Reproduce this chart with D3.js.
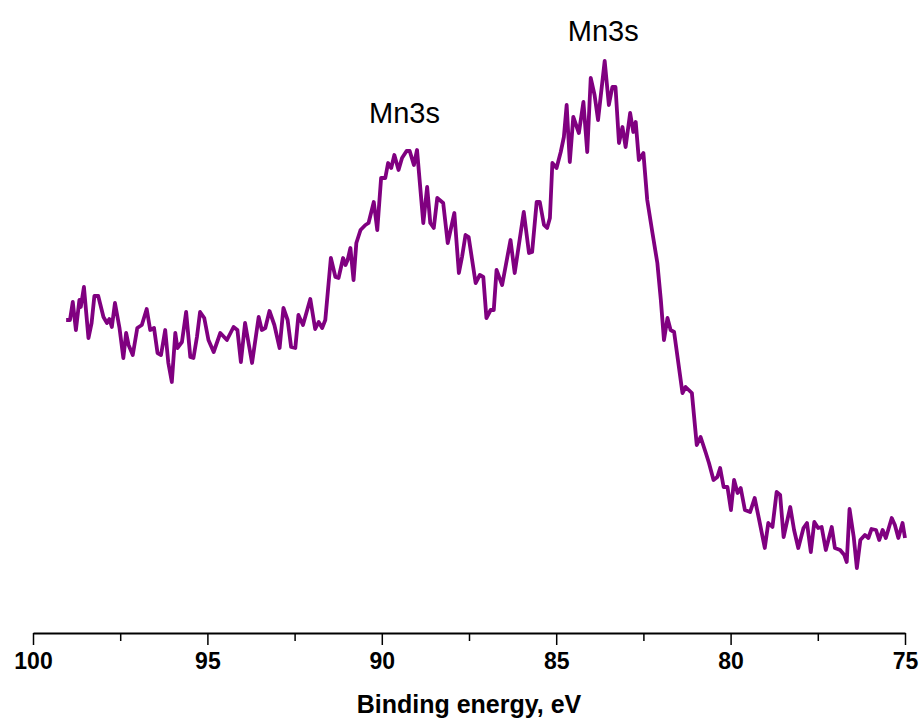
<!DOCTYPE html>
<html>
<head>
<meta charset="utf-8">
<script src="https://cdn.jsdelivr.net/npm/d3@7"></script>
<style>
    body { margin: 0; background: #fff; }
    #chart { width: 922px; height: 724px; display: block; }
</style>
</head>
<body>
<svg id="chart"></svg>
<script>

// binding energy (eV)
var energy = [
    99.05, 98.94, 98.86, 98.77, 98.67, 98.63, 98.54, 98.41, 98.32, 98.24,
    98.13, 97.98, 97.88, 97.81, 97.74, 97.65, 97.52, 97.41, 97.33, 97.26,
    97.14, 97.01, 96.88, 96.74, 96.64, 96.53, 96.43, 96.33, 96.21, 96.12,
    96.02, 95.92, 95.86, 95.73, 95.61, 95.49, 95.40, 95.30, 95.21,
    95.09, 94.97, 94.82, 94.63, 94.44, 94.25, 94.14, 94.04, 93.92, 93.72,
    93.53, 93.44, 93.34, 93.22, 93.08, 92.93, 92.82, 92.70, 92.60, 92.48,
    92.39, 92.26, 92.05, 91.91, 91.81, 91.71, 91.62, 91.46, 91.33, 91.24,
    91.11, 91.04, 90.98, 90.90, 90.81, 90.73, 90.61, 90.47, 90.38, 90.23,
    90.13, 90.02, 89.90, 89.82, 89.73, 89.64, 89.52, 89.42, 89.29, 89.20,
    89.08, 88.99, 88.81, 88.70, 88.61, 88.51, 88.41, 88.24, 88.11, 87.92,
    87.79, 87.70, 87.60, 87.51, 87.31, 87.19, 87.09,
    87.00, 86.88, 86.79, 86.71, 86.55, 86.31, 86.19, 85.93, 85.78, 85.69,
    85.56, 85.47, 85.35, 85.26, 85.18, 85.11, 84.99, 84.87, 84.78, 84.70,
    84.61, 84.51, 84.35, 84.22, 84.11, 84.01, 83.90, 83.80, 83.61, 83.49,
    83.39, 83.30, 83.20, 83.10, 83.01,
    82.88, 82.79, 82.72, 82.63, 82.50, 82.39, 82.24, 82.10, 82.00, 81.91,
    81.81, 81.72, 81.62, 81.38, 81.29, 81.11, 80.97, 80.86, 80.71, 80.62,
    80.49, 80.38, 80.30, 80.20, 80.09, 79.99, 79.90, 79.80, 79.71, 79.59,
    79.44, 79.31, 79.18,
    79.02, 78.92, 78.80, 78.68, 78.58, 78.48, 78.29, 78.18, 78.06, 77.91,
    77.81, 77.70, 77.60, 77.49, 77.39, 77.27, 77.10, 77.01, 76.86, 76.74,
    76.67, 76.59, 76.47, 76.38, 76.28, 76.15, 76.05, 75.96, 75.83, 75.74,
    75.64, 75.55, 75.38, 75.29, 75.19, 75.07, 75.00
];

// intensity (a.u.)
var intensity = [
    313, 313, 331, 303, 333, 326, 346, 295, 310, 337,
    337, 316, 310, 314, 306, 330, 305, 275, 300, 288,
    278, 305, 308, 324, 303, 305, 280, 278, 303, 270,
    251, 300, 285, 291, 321, 276, 275, 296, 321,
    315, 293, 281, 300, 293, 306, 303, 271, 310, 270,
    316, 303, 305, 322, 308, 285, 325, 313, 286, 285,
    318, 308, 334, 304, 311, 305, 313, 375, 356, 355,
    375, 368, 373, 385, 353, 390, 403, 408, 410, 431,
    403, 455, 455, 470, 465, 478, 463, 475, 482, 482,
    468, 483, 410, 446, 410, 405, 435, 430, 390, 420,
    360, 376, 398, 396, 350, 358, 356,
    315, 323, 323, 363, 348, 393, 360, 421, 380, 381,
    431, 431, 408, 405, 415, 470, 465, 481, 496, 528,
    471, 516, 500, 531, 481, 555, 538, 513, 572, 528,
    546, 546, 490, 506, 486,
    520, 501, 511, 473, 480, 433, 400, 370, 333, 293,
    315, 303, 301, 240, 246, 240, 188, 196, 180, 170,
    153, 156, 165, 146, 146, 123, 153, 140, 145, 123,
    121, 135, 113,
    85, 110, 106, 141, 138, 96, 126, 103, 85, 105,
    110, 81, 111, 105, 106, 83, 106, 85, 83, 78,
    71, 124, 96, 65, 93, 98, 95, 104, 103, 93,
    103, 95, 115, 108, 95, 110, 95
];

var majorTicks = [100, 95, 90, 85, 80, 75];
var minorTicks = [97.5, 92.5, 87.5, 82.5, 77.5];

// peak annotations
var peakLabels = ["Mn3s", "Mn3s"];
var peakEnergy = [89.35, 83.65];
var peakIntensity = [510, 592];

var xTitle = "Binding energy, eV";


class XpsChart {

    constructor(id) {

        this.svg = d3.select("#" + id);

        // parameters
        this.color = "#800080";
        this.font = "'Liberation Sans', Arial, sans-serif";
        this.margin = { left: 33, right: 17, top: 33, bottom: 91 };

    }

    setup() {
        this.computeDimensions();
        this.computeScales();
        this.drawAxis();
        this.drawLine();
        this.drawLabels();
    }

    computeDimensions() {

        this.width = 922;
        this.height = 724;

        this.svg.attr("width", this.width);
        this.svg.attr("height", this.height);

        this.axisY = this.height - this.margin.bottom;

    }

    computeScales() {

        this.x = d3.scaleLinear()
            .domain([100, 75])
            .range([this.margin.left, this.width - this.margin.right]);

        this.y = d3.scaleLinear()
            .domain([0, 600])
            .range([this.axisY, this.margin.top]);

    }

    drawAxis() {

        var axis = d3.axisBottom(this.x)
            .tickValues(majorTicks)
            .tickFormat(d3.format("d"))
            .tickSize(12)
            .tickSizeOuter(0)
            .tickPadding(8);

        var g = this.svg.append("g")
            .attr("transform", "translate(0," + this.axisY + ")")
            .call(axis);

        g.select(".domain")
            .attr("stroke", "black")
            .attr("stroke-width", 2);

        g.selectAll(".tick line")
            .attr("stroke", "black")
            .attr("stroke-width", 1.5);

        g.selectAll(".tick text")
            .attr("fill", "black")
            .attr("font-family", this.font)
            .attr("font-weight", "bold")
            .attr("font-size", "23px");

        // minor ticks
        var minor = d3.axisBottom(this.x)
            .tickValues(minorTicks)
            .tickFormat("")
            .tickSize(8)
            .tickSizeOuter(0);

        var m = this.svg.append("g")
            .attr("transform", "translate(0," + this.axisY + ")")
            .call(minor);

        m.select(".domain").remove();
        m.selectAll(".tick line")
            .attr("stroke", "black")
            .attr("stroke-width", 1.5);

        var title = this.svg.append("text");
        title.attr("x", (this.x(100) + this.x(75)) / 2);
        title.attr("y", this.axisY + 80);
        title.attr("text-anchor", "middle");
        title.attr("font-family", this.font);
        title.attr("font-weight", "bold");
        title.attr("font-size", "25px");
        title.attr("fill", "black");
        title.text(xTitle);

    }

    drawLine() {

        var points = [];
        for (var idx = 0; idx < energy.length; idx += 1) {
            points.push([energy[idx], intensity[idx]]);
        }

        var x = this.x;
        var y = this.y;

        var line = d3.line()
            .x(function (d) { return x(d[0]); })
            .y(function (d) { return y(d[1]); });

        var path = this.svg.append("path");
        path.attr("d", line(points));
        path.attr("fill", "none");
        path.attr("stroke", this.color);
        path.attr("stroke-width", 3.8);
        path.attr("stroke-linejoin", "round");

    }

    drawLabels() {

        for (var idx = 0; idx < peakLabels.length; idx += 1) {

            var text = this.svg.append("text");
            text.attr("x", this.x(peakEnergy[idx]));
            text.attr("y", this.y(peakIntensity[idx]));
            text.attr("text-anchor", "middle");
            text.attr("font-family", this.font);
            text.attr("font-size", "29px");
            text.attr("fill", "black");
            text.text(peakLabels[idx]);

        }

    }

}

var chart = new XpsChart("chart");
chart.setup();

</script>
</body>
</html>
